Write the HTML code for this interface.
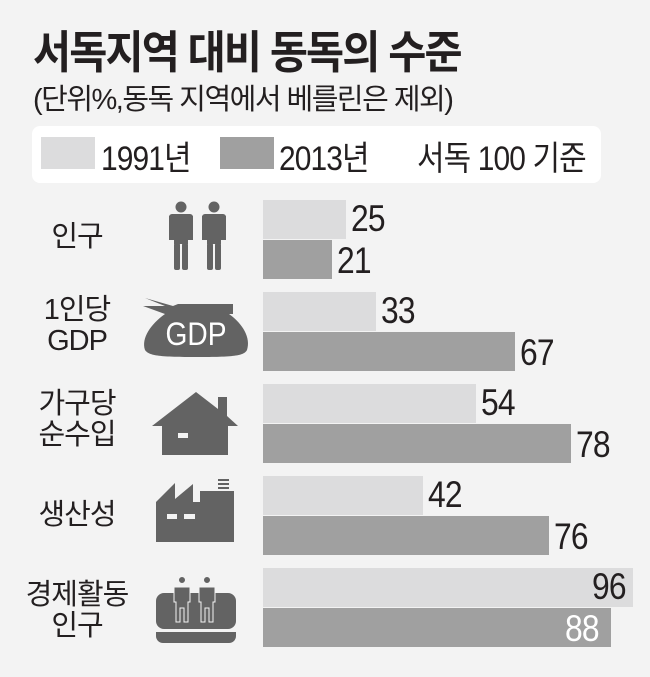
<!DOCTYPE html>
<html><head><meta charset="utf-8"><style>
body{margin:0;width:650px;height:677px;background:#f3f3f3;overflow:hidden;position:relative;font-family:"Liberation Sans","Noto Sans CJK KR",sans-serif;color:#231f20}
.a{position:absolute;white-space:nowrap}
.c{transform-origin:0 0;transform:scaleX(.88)}
.bar{position:absolute;left:263px;height:39px}
.l{background:#dcdcdd}.d{background:#a0a0a0}
.v{position:absolute;font-size:37px;line-height:39px;transform-origin:0 0;transform:scaleX(.86);letter-spacing:-1px}
.lab{position:absolute;left:0;width:154px;text-align:center;font-size:29px;line-height:31px;letter-spacing:-1px}
</style></head><body>
<div class="a c" style="left:33px;top:16px;font-size:45px;font-weight:bold;letter-spacing:-2px;transform:scaleX(.92)">서독지역 대비 동독의 수준</div>
<div class="a c" style="left:33px;top:76px;font-size:29px;letter-spacing:-1.5px;transform:scaleX(1)">(단위%,동독 지역에서 베를린은 제외)</div>
<div class="a" style="left:32px;top:126px;width:569px;height:57px;background:#fff;border-radius:8px"></div>
<div class="a" style="left:41px;top:137px;width:54px;height:32px;background:#dcdcdd"></div>
<div class="a c" style="left:101px;top:131px;font-size:34px;letter-spacing:-1px">1991년</div>
<div class="a" style="left:220px;top:137px;width:54px;height:32px;background:#a0a0a0"></div>
<div class="a c" style="left:279px;top:131px;font-size:34px;letter-spacing:-1px">2013년</div>
<div class="a c" style="left:417px;top:131px;font-size:34px;letter-spacing:-1px">서독 100 기준</div>

<div class="bar l" style="top:200px;width:83px"></div><div class="v" style="left:351px;top:199px">25</div>
<div class="bar d" style="top:240px;width:69px"></div><div class="v" style="left:337px;top:241px">21</div>
<div class="bar l" style="top:292px;width:113px"></div><div class="v" style="left:381px;top:291px">33</div>
<div class="bar d" style="top:332px;width:252px"></div><div class="v" style="left:520px;top:333px">67</div>
<div class="bar l" style="top:384px;width:213px"></div><div class="v" style="left:481px;top:383px">54</div>
<div class="bar d" style="top:424px;width:308px"></div><div class="v" style="left:576px;top:425px">78</div>
<div class="bar l" style="top:476px;width:160px"></div><div class="v" style="left:428px;top:475px">42</div>
<div class="bar d" style="top:516px;width:286px"></div><div class="v" style="left:554px;top:517px">76</div>
<div class="bar l" style="top:568px;width:370px"></div><div class="v" style="left:592px;top:567px">96</div>
<div class="bar d" style="top:608px;width:348px"></div><div class="v" style="left:565px;top:609px;color:#fff">88</div>

<div class="lab" style="top:222px">인구</div>
<div class="lab" style="top:295px">1인당<br>GDP</div>
<div class="lab" style="top:389px">가구당<br>순수입</div>
<div class="lab" style="top:500px">생산성</div>
<div class="lab" style="top:580px">경제활동<br>인구</div>

<svg class="a" style="left:0;top:0" width="650" height="677" fill="#636363">
 <g id="p1"><circle cx="181" cy="207" r="5.5"/><rect x="169" y="214" width="24" height="7" rx="3"/><rect x="169" y="216" width="5" height="24"/><rect x="188" y="216" width="5" height="24"/><rect x="174" y="216" width="14" height="28"/><rect x="174" y="243" width="6" height="27" rx="2"/><rect x="182" y="243" width="6" height="27" rx="2"/></g>
 <use href="#p1" x="33"/>
 <path d="M178 304h55v10l-4 0c14 10 22 24 18 36c-3 6-14 7-50 7s-48 -1-52-7c-4-12 6-26 20-36l-22-8l22 0l-20-8l28 8z"/>
 <text x="196" y="345" fill="#fff" font-size="32" text-anchor="middle" font-family="Liberation Sans" transform="translate(196 0) scale(.88 1) translate(-196 0)">GDP</text>
 <path d="M152 426l44-34l22 17v-12h9v19l11 10h-10v29h-66v-29z"/><rect x="178" y="433" width="10" height="5" fill="#f3f3f3"/>
 <path d="M156 502L175 483V499L193 484V502H200V491H234V542H156Z"/><rect x="218" y="479" width="11" height="2"/><rect x="218" y="483" width="11" height="2"/><rect x="218" y="487" width="11" height="2"/>
 <rect x="167" y="514" width="10" height="5" fill="#f3f3f3"/><rect x="184" y="514" width="11" height="5" fill="#f3f3f3"/>
 <rect x="156" y="593" width="80" height="36" rx="8"/><path d="M156 632h80v4a7 7 0 0 1-7 7h-66a7 7 0 0 1-7-7z"/>
 <g id="p2" stroke="#f3f3f3" stroke-width="1"><circle cx="182" cy="580" r="3.5"/><path d="M174 587h16v15h-2v20h-4v-14h-4v14h-4v-20h-2z"/></g>
 <use href="#p2" x="25"/>
</svg>
</body></html>
